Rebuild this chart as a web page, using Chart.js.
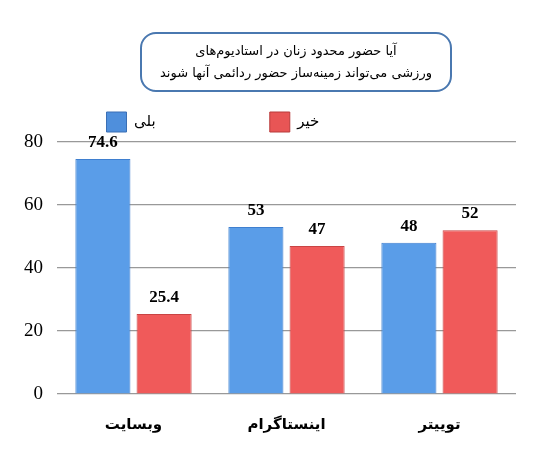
<!DOCTYPE html>
<html><head><meta charset="utf-8">
<script src="https://cdn.jsdelivr.net/npm/chart.js@4"></script>
<style>
body{margin:0;background:#fff;}
#wrap{position:relative;width:558px;height:454px;}
#tbox{position:absolute;left:140px;top:32px;width:312px;height:60px;border:2px solid #4a78b0;border-radius:16px;box-sizing:border-box;
font-family:"DejaVu Sans";font-size:13px;direction:rtl;text-align:center;line-height:22px;padding-top:6px;color:#000;}
</style></head><body>
<div id="wrap">
<canvas id="c" width="558" height="454"></canvas>
<div id="tbox">آیا حضور محدود زنان در استادیوم‌های<br>ورزشی می‌تواند زمینه‌ساز حضور ردائمی آنها شوند</div>
</div>
<script>
const categories=["وبسایت","اینستاگرام","توییتر"];
const yesVals=[74.6,53,48];
const noVals=[25.4,47,52];
const seriesNames=["بلی","خیر"];
const ctx=document.getElementById('c').getContext('2d');
const labelsPlugin={id:'lbl',afterDatasetsDraw(ch){const c=ch.ctx;c.save();c.font='bold 17px "Liberation Serif"';c.fillStyle='#000';c.textAlign='center';c.textBaseline='bottom';
ch.data.datasets.forEach((ds,i)=>{ch.getDatasetMeta(i).data.forEach((b,j)=>{c.fillText(String(ds.data[j]),b.x,b.y-8);});});c.restore();}};
function barFill(base,light){return (context)=>{const ch=context.chart;const el=context.element;
if(!el||!ch.chartArea||!Number.isFinite(el.x)||!Number.isFinite(el.width)||el.width<=0)return base;
const w=el.width;const g=ch.ctx.createLinearGradient(el.x-w/2,0,el.x+w/2,0);g.addColorStop(0,light);g.addColorStop(0.5,base);g.addColorStop(1,light);return g;};}
new Chart(ctx,{type:'bar',
data:{labels:categories,datasets:[
{label:seriesNames[0],data:yesVals,backgroundColor:barFill('#5a9de8','#8cc0f5'),borderColor:'#3f7fcf',borderWidth:1},
{label:seriesNames[1],data:noVals,backgroundColor:barFill('#f05a5a','#ff8a8a'),borderColor:'#c94444',borderWidth:1}]},
options:{responsive:false,animation:false,
layout:{padding:{top:98,right:42,left:10,bottom:6}},
scales:{x:{grid:{display:false},border:{display:false},categoryPercentage:0.62,barPercentage:0.97,
ticks:{font:{family:'DejaVu Sans',size:15,weight:'bold'},color:'#000',padding:14}},
y:{min:0,max:80,ticks:{stepSize:20,font:{family:'Liberation Serif',size:19},color:'#000',padding:14},
grid:{color:'#999',lineWidth:1.2,drawTicks:false},border:{display:false}}},
plugins:{legend:{labels:{font:{family:'DejaVu Sans',size:15},color:'#000',boxWidth:20,boxHeight:20,padding:14,
generateLabels(ch){return ch.data.datasets.map((d,i)=>({text:d.label+'                     ',fillStyle:i?'#e85555':'#4f8fdc',strokeStyle:i?'#b83a3a':'#3a6fb5',lineWidth:1,datasetIndex:i}));}}},
tooltip:{enabled:false}}},
plugins:[labelsPlugin]});
</script></body></html>
